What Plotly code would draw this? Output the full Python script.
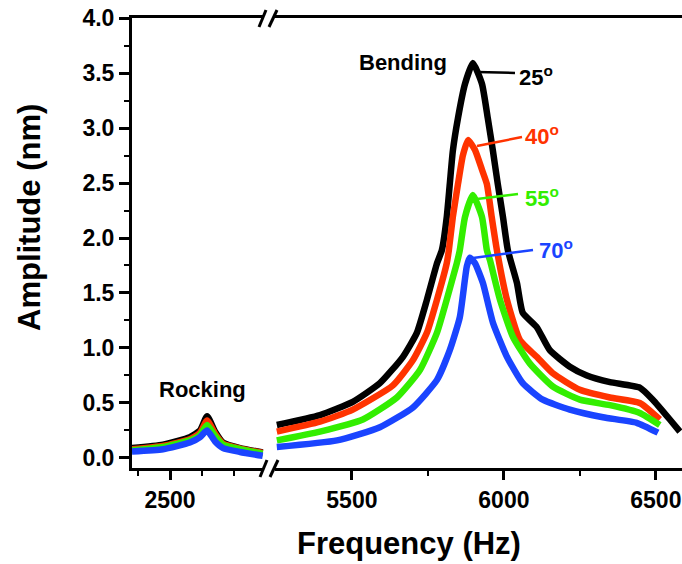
import plotly.graph_objects as go

# ---------------- data ----------------
# Rocking mode (left axis segment)
freq_rock = [2381, 2478, 2562, 2594, 2616, 2641, 2666, 2719, 2790]
amp25_rock = [0.09, 0.12, 0.19, 0.25, 0.38, 0.24, 0.14, 0.09, 0.05]
amp40_rock = [0.08, 0.11, 0.17, 0.23, 0.34, 0.22, 0.13, 0.085, 0.045]
amp55_rock = [0.07, 0.10, 0.16, 0.21, 0.30, 0.20, 0.12, 0.08, 0.04]
amp70_rock = [0.06, 0.08, 0.14, 0.19, 0.25, 0.15, 0.09, 0.055, 0.02]

# Bending mode (right axis segment)
freq25_bend = [5253, 5395, 5503, 5592, 5668, 5714, 5747, 5780, 5796, 5812, 5822, 5832,
               5849, 5872, 5898, 5928, 5947, 5964, 5980, 5997, 6013, 6043, 6062, 6108,
               6151, 6217, 6273, 6349, 6447, 6490, 6546, 6579]
amp25_bend = [0.30, 0.39, 0.51, 0.68, 0.92, 1.14, 1.44, 1.77, 1.89, 2.19, 2.49, 2.79,
              3.09, 3.40, 3.59, 3.40, 3.09, 2.79, 2.49, 2.19, 1.89, 1.59, 1.32, 1.19,
              0.98, 0.83, 0.75, 0.69, 0.64, 0.53, 0.35, 0.24]

freq40_bend = [5253, 5395, 5503, 5635, 5701, 5747, 5780, 5812, 5819, 5832, 5849, 5865,
               5882, 5905, 5928, 5944, 5960, 5977, 6010, 6053, 6108, 6161, 6250, 6349,
               6447, 6513]
amp40_bend = [0.24, 0.33, 0.44, 0.66, 0.89, 1.14, 1.44, 1.77, 1.89, 2.19, 2.49, 2.75,
              2.89, 2.80, 2.62, 2.49, 2.19, 1.89, 1.44, 1.07, 0.92, 0.77, 0.62, 0.55,
              0.50, 0.35]

freq55_bend = [5253, 5395, 5536, 5648, 5724, 5780, 5812, 5845, 5855, 5872, 5898, 5928,
               5944, 5954, 5987, 6030, 6085, 6161, 6250, 6349, 6447, 6513]
amp55_bend = [0.16, 0.24, 0.35, 0.55, 0.80, 1.14, 1.44, 1.77, 1.89, 2.19, 2.39, 2.19,
              1.89, 1.80, 1.44, 1.10, 0.86, 0.65, 0.53, 0.48, 0.41, 0.30]

freq70_bend = [5253, 5451, 5592, 5701, 5780, 5822, 5855, 5878, 5888, 5905, 5931, 5964,
               6010, 6062, 6128, 6217, 6326, 6437, 6507]
amp70_bend = [0.10, 0.16, 0.28, 0.46, 0.71, 0.98, 1.28, 1.74, 1.82, 1.77, 1.59, 1.23,
              0.92, 0.68, 0.53, 0.44, 0.37, 0.32, 0.23]

angle_labels = ["25", "40", "55", "70"]
colors = ["#000000", "#ff3300", "#33ee00", "#1a44ff"]

x_ticks_left = [2500]
x_minor_left = [2400, 2600, 2700]
x_ticks_right = [5500, 6000, 6500]
x_minor_right = [5750, 6250]

# ---------------- figure ----------------
W, H = 682, 564
L, R, T, B = 132, 0, 18, 96
PW, PH = W - L - R, H - T - B


def px(x):
    return (x - L) / PW


def py(y):
    return (H - B - y) / PH


FONT = "Liberation Sans, Arial, sans-serif"

fig = go.Figure()

rock = [amp25_rock, amp40_rock, amp55_rock, amp70_rock]
bend = [(freq25_bend, amp25_bend), (freq40_bend, amp40_bend),
        (freq55_bend, amp55_bend), (freq70_bend, amp70_bend)]

for amps, c in zip(rock, colors):
    fig.add_trace(go.Scatter(x=freq_rock, y=amps, mode="lines",
                             line=dict(color=c, width=6.5, shape="spline", smoothing=0.5),
                             xaxis="x", yaxis="y", hoverinfo="skip"))
for (fx, fy), c in zip(bend, colors):
    fig.add_trace(go.Scatter(x=fx, y=fy, mode="lines",
                             line=dict(color=c, width=6.5, shape="spline", smoothing=0.5),
                             xaxis="x2", yaxis="y", hoverinfo="skip"))

tickfont = dict(family=FONT, size=23, color="black", weight="bold")

common_x = dict(showline=True, linewidth=3, linecolor="black", mirror=True,
                showgrid=False, zeroline=False, ticks="outside", ticklen=9,
                tickwidth=2.5, tickcolor="black", tickfont=tickfont,
                anchor="y", automargin=False)

fig.update_layout(
    width=W, height=H,
    margin=dict(l=L, r=R, t=T, b=B, autoexpand=False),
    paper_bgcolor="white", plot_bgcolor="white",
    showlegend=False,
    xaxis=dict(domain=[0, px(264)], range=[2381, 2794],
               tickmode="array", tickvals=x_ticks_left,
               minor=dict(tickmode="array", tickvals=x_minor_left, ticks="outside",
                          ticklen=5, tickwidth=2, tickcolor="black", showgrid=False),
               **common_x),
    xaxis2=dict(domain=[px(275), 1], range=[5247, 6586],
                tickmode="array", tickvals=x_ticks_right,
                minor=dict(tickmode="array", tickvals=x_minor_right, ticks="outside",
                           ticklen=5, tickwidth=2, tickcolor="black", showgrid=False),
                **common_x),
    yaxis=dict(range=[-0.091, 4.0], tickmode="linear", tick0=0, dtick=0.5,
               tickformat=".1f", showline=True, linewidth=3, linecolor="black",
               showgrid=False, zeroline=False, ticks="outside", ticklen=10,
               tickwidth=2.5, tickcolor="black", tickfont=tickfont, anchor="x",
               automargin=False,
               minor=dict(tick0=0.25, dtick=0.5, ticks="outside", ticklen=5,
                          tickwidth=2, tickcolor="black", showgrid=False)),
)

# axis break marks
shapes = []
for (x0, y0, x1, y1) in [(260, 477, 267, 460), (270, 477, 278, 460),
                         (259, 27, 266, 10), (269, 27, 277, 10)]:
    shapes.append(dict(type="line", xref="paper", yref="paper",
                       x0=px(x0), y0=py(y0), x1=px(x1), y1=py(y1),
                       line=dict(color="black", width=3)))

# leader lines for the angle labels
leaders = [((477, 72), (515, 73)), ((477, 146), (522, 137)),
           ((477, 199), (518, 194)), ((473, 258), (533, 250))]
for ((a, b), (c, d)), col in zip(leaders, colors):
    shapes.append(dict(type="line", xref="paper", yref="paper",
                       x0=px(a), y0=py(b), x1=px(c), y1=py(d),
                       line=dict(color=col, width=2.5)))
fig.update_layout(shapes=shapes)

ann_font = dict(family=FONT, size=22, weight="bold")
annotations = [
    dict(text="Bending", x=px(403), y=py(63), font=dict(color="black", **ann_font)),
    dict(text="Rocking", x=px(202), y=py(389), font=dict(color="black", **ann_font)),
]
label_pos = [(517, 76), (523, 135), (523, 197), (537, 249)]
for lab, (lx, ly), col in zip(angle_labels, label_pos, colors):
    annotations.append(dict(text=f"{lab}<sup>o</sup>", x=px(lx), y=py(ly),
                            xanchor="left", font=dict(color=col, **ann_font)))
annotations.append(dict(text="Frequency (Hz)", x=px(409), y=py(543),
                        font=dict(family=FONT, size=31, color="black", weight="bold")))
annotations.append(dict(text="Amplitude (nm)", x=px(29), y=py(218), textangle=-90,
                        font=dict(family=FONT, size=31, color="black", weight="bold")))
for a in annotations:
    a.setdefault("xanchor", "center")
    a.update(xref="paper", yref="paper", yanchor="middle", showarrow=False)
fig.update_layout(annotations=annotations)

fig.write_html("out.html", config={"displayModeBar": False},
               post_script="document.body.style.margin='0';document.body.style.overflow='hidden';")
